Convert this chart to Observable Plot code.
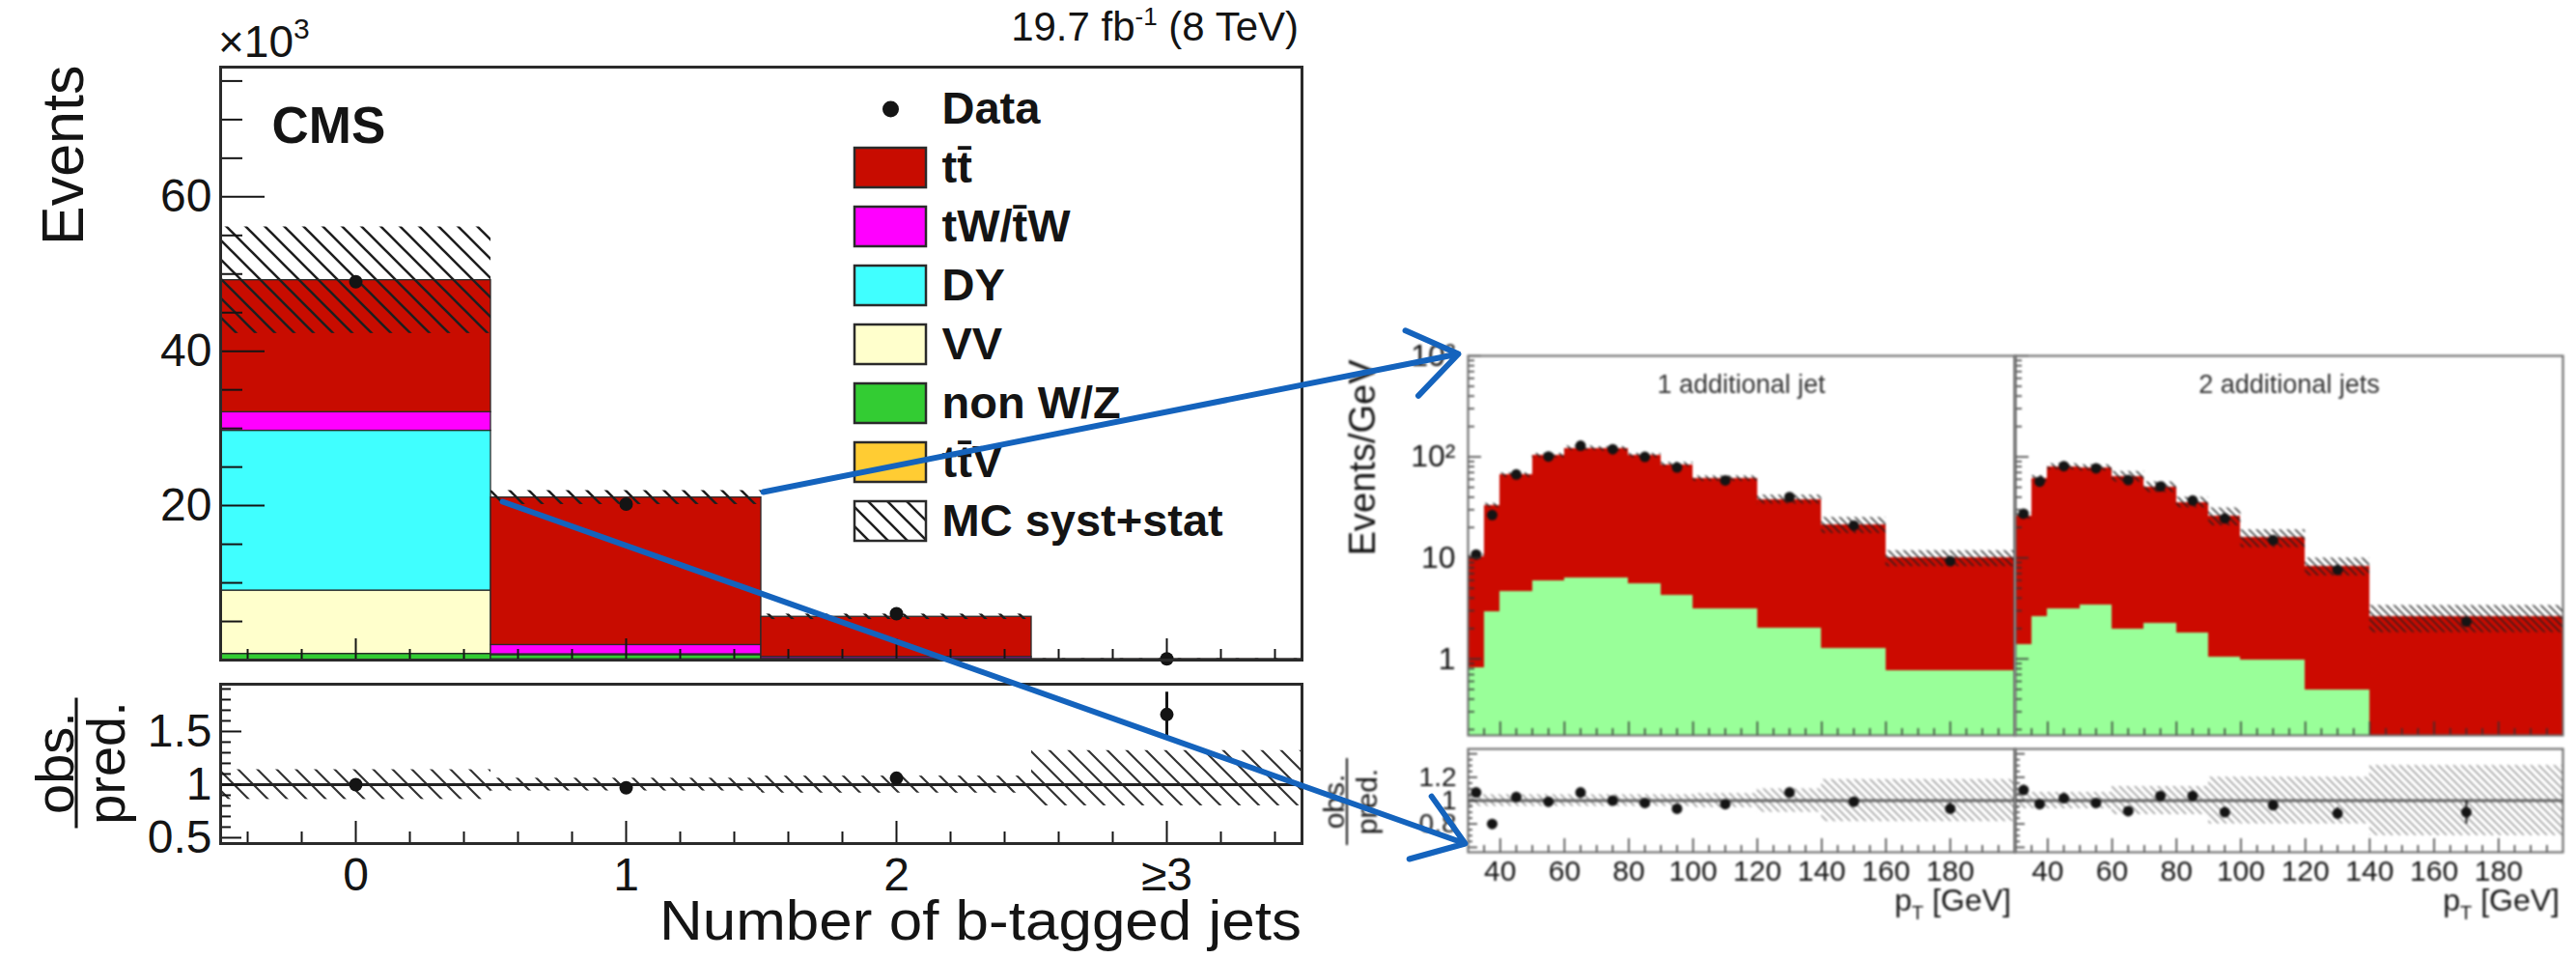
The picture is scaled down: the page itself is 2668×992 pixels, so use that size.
<!DOCTYPE html>
<html>
<head>
<meta charset="utf-8">
<script src="https://cdn.jsdelivr.net/npm/d3@7"></script>
<script src="https://cdn.jsdelivr.net/npm/@observablehq/plot@0.6"></script>
<style>
  html, body { margin: 0; padding: 0; background: #fff; }
  #page { position: relative; width: 2668px; height: 992px; overflow: hidden; background: #fff; }
  .panel { position: absolute; }
  .panel svg { display: block; overflow: visible; }
  .soft { filter: blur(0.8px); }
  .overlay { pointer-events: none; }
</style>
</head>
<body>
<div id="page">
  <svg width="0" height="0" style="position:absolute">
    <defs>
      <pattern id="hatchMain" patternUnits="userSpaceOnUse" width="20" height="20">
        <path d="M-2,-2L22,22M-2,18L2,22M18,-2L22,2" stroke="#1e1e1e" stroke-width="2.6" fill="none"/>
      </pattern>
      <pattern id="hatchRatio" patternUnits="userSpaceOnUse" width="20" height="20">
        <path d="M-2,-2L22,22M-2,18L2,22M18,-2L22,2" stroke="#333" stroke-width="2.2" fill="none"/>
      </pattern>
      <pattern id="hatchFine" patternUnits="userSpaceOnUse" width="8" height="8">
        <path d="M-1,-1L9,9M-1,7L1,9M7,-1L9,1" stroke="#1e1e1e" stroke-width="1.4" fill="none"/>
      </pattern>
      <pattern id="hatchFineGray" patternUnits="userSpaceOnUse" width="8" height="8">
        <path d="M-1,-1L9,9M-1,7L1,9M7,-1L9,1" stroke="#8a8a8a" stroke-width="1.3" fill="none"/>
      </pattern>
    </defs>
  </svg>
</div>
<script>
const FONT = "'Liberation Sans', Arial, Helvetica, sans-serif";
const INK = "#141414";

// ---------- Events vs number of b-tagged jets (units of 10^3 events) ----------
const bTagLabels  = ["0", "1", "2", "≥3"];
const bTagCenters = [0, 1, 2, 3];
const ttbarK  = [17.1, 19.1, 5.2, 0.10];
const tWK     = [2.4, 1.2, 0.25, 0.02];
const dyK     = [20.7, 0.05, 0.02, 0.0];
const vvK     = [8.2, 0.05, 0.02, 0.0];
const nonWZK  = [0.78, 0.55, 0.05, 0.0];
const ttVK    = [0.02, 0.10, 0.06, 0.01];
const dataK   = [49.0, 20.2, 6.0, 0.16];
const mcUncK  = [6.9, 0.9, 0.35, 0.05];
const ratioVals   = [1.00, 0.97, 1.06, 1.66];
const ratioErrs   = [0.01, 0.012, 0.02, 0.21];
const ratioBandLo = [0.86, 0.94, 0.92, 0.80];
const ratioBandHi = [1.14, 1.06, 1.08, 1.32];

// stacking order, bottom to top
const processNames  = ["tt̄V", "non W/Z", "VV", "DY", "tW/t̄W", "tt̄"];
const processColors = ["#ffcc33", "#33cc33", "#ffffcc", "#40ffff", "#ff00ff", "#c80c00"];
const processValues = [ttVK, nonWZK, vvK, dyK, tWK, ttbarK];

const legendLabels = ["Data", "tt̄", "tW/t̄W", "DY", "VV", "non W/Z", "tt̄V", "MC syst+stat"];

// ---------- pT of the additional jet (events / GeV) ----------
const panelTitles = ["1 additional jet", "2 additional jets"];

const ptEdges1    = [30, 35, 40, 50, 60, 70, 80, 90, 100, 120, 140, 160, 200];
const ptTotal1    = [10.3, 33, 66, 103, 122, 120, 103, 84, 61, 38, 21.3, 10.0];
const ptLower1    = [0.81, 2.9, 4.7, 5.9, 6.3, 6.3, 5.5, 4.3, 3.1, 2.0, 1.26, 0.76];
const ptData1     = [10.8, 26.6, 67, 101, 129, 119, 100, 78.5, 58.5, 40, 20.9, 9.3];
const ptUnc1      = [0.05, 0.05, 0.05, 0.05, 0.05, 0.05, 0.05, 0.05, 0.06, 0.10, 0.18, 0.18];
const ptRatio1    = [1.07, 0.80, 1.03, 0.99, 1.07, 1.00, 0.98, 0.93, 0.97, 1.07, 0.99, 0.93];
const ptRatioErr1 = [0.03, 0.03, 0.02, 0.02, 0.02, 0.02, 0.02, 0.02, 0.02, 0.03, 0.04, 0.05];

const ptEdges2    = [30, 35, 40, 50, 60, 70, 80, 90, 100, 120, 140, 200];
const ptTotal2    = [26, 61, 80, 78, 64, 50.5, 35.6, 26, 15.8, 8.3, 2.6];
const ptLower2    = [1.40, 2.62, 3.1, 3.38, 1.95, 2.26, 1.81, 1.05, 0.97, 0.49, 0.1];
const ptData2     = [27.4, 57, 81, 77, 59, 51, 37, 24.6, 15, 7.6, 2.34];
const ptUnc2      = [0.07, 0.07, 0.07, 0.07, 0.12, 0.12, 0.12, 0.20, 0.20, 0.20, 0.30];
const ptRatio2    = [1.09, 0.97, 1.02, 0.98, 0.91, 1.04, 1.04, 0.90, 0.96, 0.89, 0.90];
const ptRatioErr2 = [0.04, 0.03, 0.03, 0.03, 0.03, 0.03, 0.04, 0.04, 0.04, 0.05, 0.10];

// hand-drawn call-out arrows (page pixels)
const arrows = [
  {x1: 790, y1: 509, x2: 1510, y2: 366},
  {x1: 520, y1: 519, x2: 1517, y2: 873}
];

// ---------- helpers ----------
const page = document.getElementById("page");
function place(node, left, top, width, height, cls) {
  const div = document.createElement("div");
  div.className = "panel" + (cls ? " " + cls : "");
  Object.assign(div.style, {left: left + "px", top: top + "px", width: width + "px", height: height + "px"});
  div.appendChild(node);
  page.appendChild(div);
  return div;
}
const baseStyle = {fontFamily: FONT, color: INK, background: "none", overflow: "visible"};
const steps = (a, b, step) => d3.range(Math.round(a / step), Math.round(b / step) + 1).map(k => +(k * step).toFixed(6));
const isMultiple = (v, m) => Math.abs(v / m - Math.round(v / m)) < 1e-6;

// inward ROOT-style ticks along the bottom and left edges
function bottomTicks(values, len, frameH, sw = 2, stroke = INK) {
  return Plot.tickX(values, {x: d => d, insetTop: frameH - len, stroke, strokeWidth: sw});
}
function leftTicks(values, len, frameW, sw = 2, stroke = INK) {
  return Plot.tickY(values, {y: d => d, insetRight: frameW - len, stroke, strokeWidth: sw});
}

// rotated "obs. / pred." fraction
function fraction(sel, x, y, size, barLen) {
  const g = sel.append("g").attr("font-family", FONT).attr("font-size", size).attr("fill", INK).attr("text-anchor", "middle");
  g.append("text").attr("transform", `translate(${x - 3},${y}) rotate(-90)`).text("obs.");
  g.append("text").attr("transform", `translate(${x + 9 + 0.73 * size},${y}) rotate(-90)`).text("pred.");
  g.append("line").attr("x1", x).attr("x2", x).attr("y1", y - barLen / 2).attr("y2", y + barLen / 2)
    .attr("stroke", INK).attr("stroke-width", Math.max(2, size / 18));
}

// ================= b-tag multiplicity: upper panel =================
const LM = {width: 1360, height: 700, left: 228, right: 12, top: 69, bottom: 17};
const lmW = LM.width - LM.left - LM.right, lmH = LM.height - LM.top - LM.bottom;

const stackRows = [];
bTagCenters.forEach((c, i) => {
  let base = 0;
  processValues.forEach((vals, p) => {
    stackRows.push({x1: c - 0.5, x2: c + 0.5, y1: base, y2: base + vals[i], color: processColors[p]});
    base += vals[i];
  });
});
const mcTotals = bTagCenters.map((c, i) => d3.sum(processValues, vals => vals[i]));
const bandRows = bTagCenters.map((c, i) => ({x1: c - 0.5, x2: c + 0.5, y1: mcTotals[i] - mcUncK[i], y2: mcTotals[i] + mcUncK[i]}));
const dataRows = bTagCenters.map((c, i) => ({x: c, y: dataK[i]}));

const xMinorB = steps(-0.4, 3.4, 0.2).filter(v => !isMultiple(v, 1));
const yMinorMain = steps(0, 75, 5).filter(v => !isMultiple(v, 20));

const mainLeft = Plot.plot({
  width: LM.width, height: LM.height,
  marginLeft: LM.left, marginRight: LM.right, marginTop: LM.top, marginBottom: LM.bottom,
  x: {domain: [-0.5, 3.5], axis: null},
  y: {domain: [0, 76.8]},
  color: {type: "identity"},
  style: {...baseStyle, fontSize: "48px"},
  marks: [
    Plot.rect(stackRows, {x1: "x1", x2: "x2", y1: "y1", y2: "y2", fill: "color", stroke: "#2a2a2a", strokeWidth: 1.3}),
    Plot.rect(bandRows, {x1: "x1", x2: "x2", y1: "y1", y2: "y2", fill: "url(#hatchMain)"}),
    Plot.dot(dataRows, {x: "x", y: "y", r: 7, fill: INK}),
    bottomTicks(bTagCenters, 22, lmH),
    bottomTicks(xMinorB, 11, lmH),
    leftTicks([0, 20, 40, 60], 46, lmW),
    leftTicks(yMinorMain, 23, lmW),
    Plot.frame({stroke: "#2a2a2a", strokeWidth: 3}),
    Plot.axisY({ticks: [20, 40, 60], tickSize: 0, tickPadding: 9, fontSize: 48, label: null}),
    Plot.text(["CMS"], {frameAnchor: "top-left", dx: 53, dy: 41, lineAnchor: "top", textAnchor: "start", fontSize: 53, fontWeight: "bold"}),
    Plot.text(["Events"], {frameAnchor: "top-left", dx: -186, dy: -2, rotate: -90, textAnchor: "end", lineAnchor: "top", fontSize: 61})
  ]
});
{
  const s = d3.select(mainLeft);
  const t = s.append("text")
    .attr("x", 1345).attr("y", 42).attr("text-anchor", "end")
    .attr("font-family", FONT).attr("font-size", 42).attr("fill", INK);
  t.append("tspan").text("19.7 fb");
  t.append("tspan").attr("dy", -16).attr("font-size", 26).text("-1");
  t.append("tspan").attr("dy", 16).text(" (8 TeV)");
  const m = s.append("text")
    .attr("x", 226).attr("y", 59).attr("text-anchor", "start")
    .attr("font-family", FONT).attr("font-size", 46).attr("fill", INK);
  m.append("tspan").text("×10");
  m.append("tspan").attr("dy", -19).attr("font-size", 30).text("3");
}
place(mainLeft, 0, 0, LM.width, LM.height);

// legend drawn inside the upper panel
const legendFill = {"MC syst+stat": "url(#hatchMain)"};
processNames.forEach((n, i) => legendFill[n] = processColors[i]);
const legendRows = legendLabels.map(label => ({label, fill: legendFill[label] || null}));
const legend = Plot.plot({
  width: 500, height: 600, margin: 0,
  x: {domain: [0, 500], range: [0, 500], axis: null},
  y: {type: "band", domain: legendLabels, range: [81.5, 569.5], paddingInner: 0.33, paddingOuter: 0.165, axis: null},
  color: {type: "identity"},
  style: {...baseStyle, fontSize: "46px"},
  marks: [
    Plot.barX(legendRows.filter(d => d.fill), {x1: 25, x2: 99, y: "label", fill: "fill", stroke: "#2a2a2a", strokeWidth: 2.5}),
    Plot.dot(legendRows.filter(d => !d.fill), {x: 62, y: "label", r: 8.5, fill: INK}),
    Plot.text(legendRows, {x: 115, y: "label", text: "label", textAnchor: "start", fontWeight: "bold", fontSize: 47})
  ]
});
place(legend, 860, 0, 500, 600);

// ================= b-tag multiplicity: ratio panel =================
const LR = {width: 1360, height: 302, left: 228, right: 12, top: 18, bottom: 119};
const lrW = LR.width - LR.left - LR.right, lrH = LR.height - LR.top - LR.bottom;
const ratioRows = bTagCenters.map((c, i) => ({x: c, x1: c - 0.5, x2: c + 0.5, r: ratioVals[i], e: ratioErrs[i], lo: ratioBandLo[i], hi: ratioBandHi[i]}));
const yMinorRatio = steps(0.5, 1.9, 0.1).filter(v => !isMultiple(v, 0.5));

const ratioLeft = Plot.plot({
  width: LR.width, height: LR.height,
  marginLeft: LR.left, marginRight: LR.right, marginTop: LR.top, marginBottom: LR.bottom,
  x: {domain: [-0.5, 3.5]},
  y: {domain: [0.445, 1.945]},
  style: {...baseStyle, fontSize: "48px"},
  marks: [
    Plot.rect(ratioRows, {x1: "x1", x2: "x2", y1: "lo", y2: "hi", fill: "url(#hatchRatio)"}),
    Plot.ruleY([1], {stroke: "#222", strokeWidth: 3}),
    Plot.ruleX(ratioRows, {x: "x", y1: d => d.r - d.e, y2: d => d.r + d.e, stroke: INK, strokeWidth: 3}),
    Plot.dot(ratioRows, {x: "x", y: "r", r: 7, fill: INK}),
    bottomTicks(bTagCenters, 23, lrH),
    bottomTicks(xMinorB, 12, lrH),
    leftTicks([0.5, 1, 1.5], 22, lrW),
    leftTicks(yMinorRatio, 11, lrW),
    Plot.frame({stroke: "#2a2a2a", strokeWidth: 3}),
    Plot.axisY({ticks: [0.5, 1, 1.5], tickSize: 0, tickPadding: 9, fontSize: 48, label: null, tickFormat: d => String(d)}),
    Plot.axisX({ticks: bTagCenters, tickFormat: i => bTagLabels[i], tickSize: 0, tickPadding: 14, fontSize: 48, label: null})
  ]
});
{
  const s = d3.select(ratioLeft);
  s.append("text")
    .attr("x", 683).attr("y", 283).attr("text-anchor", "start")
    .attr("textLength", 665).attr("lengthAdjust", "spacingAndGlyphs")
    .attr("font-family", FONT).attr("font-size", 58).attr("fill", INK)
    .text("Number of b-tagged jets");
  fraction(s, 79, 100, 56, 135);
}
place(ratioLeft, 0, 690, LR.width, LR.height);

// ================= pT panels =================
const ptPanels = [
  {edges: ptEdges1, total: ptTotal1, lower: ptLower1, data: ptData1, unc: ptUnc1, ratio: ptRatio1, ratioErr: ptRatioErr1, title: panelTitles[0]},
  {edges: ptEdges2, total: ptTotal2, lower: ptLower2, data: ptData2, unc: ptUnc2, ratio: ptRatio2, ratioErr: ptRatioErr2, title: panelTitles[1]}
];
const logMajor = [1, 10, 100, 1000];
const logMinor = [];
[0.1, 1, 10, 100].forEach(d => { for (let k = 2; k <= 9; k++) if (k * d > 0.175) logMinor.push(k * d); });
const ptMajor = steps(40, 180, 20);
const ptMinor = steps(35, 195, 5).filter(v => !isMultiple(v, 20));
const ratioMajorR = [0.6, 0.8, 1.0, 1.2, 1.4];
const ratioMinorR = steps(0.6, 1.4, 0.05).filter(v => !isMultiple(v, 0.2));
const PT = {frameL: [1520, 2087], frameW: [566, 567], axisMargin: 140, mainTop: 330, mainH: 440, mT: 38, mB: 9, ratioTop: 770, ratioH: 222, rT: 5, rB: 110};
const logLabel = {1: "1", 10: "10", 100: "10²", 1000: "10³"};

ptPanels.forEach((p, k) => {
  const rows = p.total.map((t, i) => ({
    x1: p.edges[i], x2: p.edges[i + 1], mid: (p.edges[i] + p.edges[i + 1]) / 2,
    total: t, lower: p.lower[i], data: p.data[i], unc: p.unc[i], r: p.ratio[i], e: p.ratioErr[i]
  }));
  const withAxis = k === 0;
  const ml = withAxis ? PT.axisMargin : 0;
  const fw = PT.frameW[k];
  const fh = PT.mainH - PT.mT - PT.mB;

  const main = Plot.plot({
    width: ml + fw, height: PT.mainH, marginLeft: ml, marginRight: 0, marginTop: PT.mT, marginBottom: PT.mB,
    x: {domain: [30, 200], axis: null},
    y: withAxis ? {type: "log", domain: [0.175, 1000]} : {type: "log", domain: [0.175, 1000], axis: null},
    style: {...baseStyle, fontSize: "32px"},
    marks: [
      Plot.rect(rows, {x1: "x1", x2: "x2", y1: () => 1e-3, y2: "lower", fill: "#99ff99", clip: true, shapeRendering: "crispEdges"}),
      Plot.rect(rows, {x1: "x1", x2: "x2", y1: "lower", y2: "total", fill: "#cc0a00", clip: true, shapeRendering: "crispEdges"}),
      Plot.rect(rows, {x1: "x1", x2: "x2", y1: d => d.total * (1 - d.unc), y2: d => d.total * (1 + d.unc), fill: "url(#hatchFine)", clip: true}),
      Plot.dot(rows, {x: "mid", y: "data", r: 5.5, fill: INK}),
      bottomTicks(ptMajor, 14, fh, 1.5, "#333"),
      bottomTicks(ptMinor, 7, fh, 1.5, "#333"),
      leftTicks(logMajor, 14, fw, 1.5, "#333"),
      leftTicks(logMinor, 7, fw, 1.5, "#333"),
      Plot.frame({stroke: "#666", strokeWidth: 2}),
      Plot.text([p.title], {frameAnchor: "top", dy: 19, lineAnchor: "top", fontSize: 27, fill: "#333"}),
      ...(withAxis ? [
        Plot.axisY({ticks: logMajor, tickFormat: d => logLabel[d], tickSize: 0, tickPadding: 13, fontSize: 32, label: null}),
        Plot.text(["Events/GeV"], {frameAnchor: "top-left", dx: -123, dy: 4, rotate: -90, textAnchor: "end", lineAnchor: "top", fontSize: 38})
      ] : [])
    ]
  });
  place(main, PT.frameL[k] - ml, PT.mainTop, ml + fw, PT.mainH, "soft");

  const rh = PT.ratioH - PT.rT - PT.rB;
  const ratio = Plot.plot({
    width: ml + fw, height: PT.ratioH, marginLeft: ml, marginRight: 0, marginTop: PT.rT, marginBottom: PT.rB,
    x: {domain: [30, 200]},
    y: withAxis ? {domain: [0.558, 1.442]} : {domain: [0.558, 1.442], axis: null},
    style: {...baseStyle, fontSize: "28px"},
    marks: [
      Plot.rect(rows, {x1: "x1", x2: "x2", y1: d => 1 - d.unc, y2: d => 1 + d.unc, fill: "url(#hatchFineGray)"}),
      Plot.ruleY([1], {stroke: "#666", strokeWidth: 3}),
      Plot.ruleX(rows, {x: "mid", y1: d => d.r - d.e, y2: d => d.r + d.e, stroke: INK, strokeWidth: 2}),
      Plot.dot(rows, {x: "mid", y: "r", r: 5.5, fill: INK}),
      bottomTicks(ptMajor, 14, rh, 1.5, "#333"),
      bottomTicks(ptMinor, 7, rh, 1.5, "#333"),
      leftTicks(ratioMajorR, 10, fw, 1.5, "#333"),
      leftTicks(ratioMinorR, 5, fw, 1.5, "#333"),
      Plot.frame({stroke: "#666", strokeWidth: 2}),
      Plot.axisX({ticks: ptMajor, tickSize: 0, tickPadding: 8, fontSize: 30, label: null}),
      ...(withAxis ? [Plot.axisY({ticks: [0.8, 1, 1.2], tickFormat: d => String(d), tickSize: 0, tickPadding: 12, fontSize: 28, label: null})] : [])
    ]
  });
  {
    const s = d3.select(ratio);
    const t = s.append("text").attr("x", ml + fw - 3).attr("y", 173).attr("text-anchor", "end")
      .attr("font-family", FONT).attr("font-size", 32).attr("fill", INK);
    t.append("tspan").text("p");
    t.append("tspan").attr("dy", 9).attr("font-size", 20).text("T");
    t.append("tspan").attr("dy", -9).text(" [GeV]");
    if (withAxis) fraction(s, 15, 60, 30, 90);
  }
  place(ratio, PT.frameL[k] - ml, PT.ratioTop, ml + fw, PT.ratioH, "soft");
});

// ================= call-out arrows over the whole page =================
const overlay = Plot.plot({
  width: 2668, height: 992, margin: 0,
  x: {domain: [0, 2668], range: [0, 2668], axis: null},
  y: {domain: [0, 992], range: [0, 992], axis: null},
  style: {...baseStyle},
  marks: [
    Plot.arrow(arrows, {x1: "x1", y1: "y1", x2: "x2", y2: "y2", stroke: "#1463bd", strokeWidth: 6, headLength: 15, headAngle: 70})
  ]
});
place(overlay, 0, 0, 2668, 992, "overlay");
</script>
</body>
</html>
